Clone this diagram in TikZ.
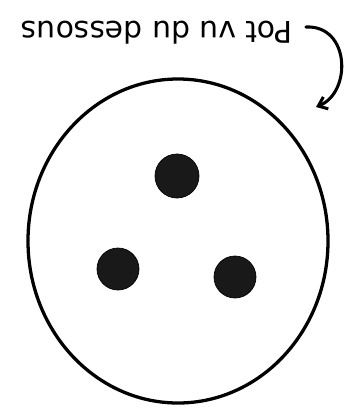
\documentclass[tikz,border=0pt]{standalone}
\usepackage{fontspec}
\setmainfont{DejaVu Sans}
\usetikzlibrary{positioning,arrows.meta,shapes.geometric}

\begin{document}
\begin{tikzpicture}[
    x=0.03cm, y=-0.03cm,
    pot/.style={draw=black, ellipse, line width=2.8pt, minimum width=9cm, minimum height=9.72cm, inner sep=0pt},
    hole/.style={circle, fill=black!90, draw=black, line width=0.6pt, minimum size=#1, inner sep=0pt},
    lbl/.style={font=\fontsize{25.5}{28}\selectfont, rotate=180, inner sep=0pt},
    arr/.style={-{Straight Barb[length=7pt, width=11pt]}, line width=2.6pt, line cap=round},
]
\useasboundingbox (0,0) rectangle (349,414);

\node[pot] (pot) at (178,241) {};
\node[hole=1.32cm] (h1) at (177,176) {};
\node[hole=1.26cm] (h2) at (118,269) {};
\node[hole=1.26cm] (h3) at (235,277) {};

\node[lbl] (title) at (157,33) {Pot vu du dessous};

\coordinate (tail) at (306,27);
\coordinate (tip) at (316,107);
\draw[arr] (tail) .. controls (350,25) and (352,92) .. (tip);

\end{tikzpicture}
\end{document}
